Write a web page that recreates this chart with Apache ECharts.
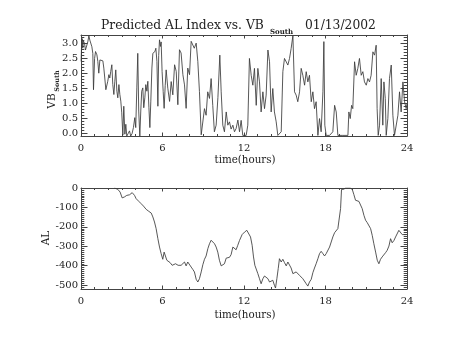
<!DOCTYPE html>
<html>
<head>
<meta charset="utf-8">
<script src="https://cdn.jsdelivr.net/npm/echarts@6/dist/echarts.min.js"></script>
<style>
  html, body { margin: 0; padding: 0; background: #fff; }
  #chart { width: 454px; height: 341px; }
</style>
</head>
<body>
<div id="chart"></div>
<script>
// Predicted southward IMF (VB South) — hours since 00 UT and value
const vbHours = [
  0.01, 0.04, 0.09, 0.13, 0.18, 0.26, 0.33, 0.43, 0.50, 0.58, 0.65, 0.72, 0.80, 0.87, 0.92,
  1.00, 1.07, 1.17, 1.24, 1.31, 1.39, 1.46, 1.53, 1.61, 1.68, 1.75, 1.83, 1.90, 1.97,
  2.05, 2.12, 2.19, 2.27, 2.34, 2.42, 2.49, 2.56, 2.64, 2.71, 2.79, 2.86, 2.93,
  3.00, 3.08, 3.15, 3.23, 3.30, 3.37, 3.47, 3.57, 3.66, 3.76, 3.86, 3.96,
  4.03, 4.11, 4.18, 4.25, 4.33, 4.40, 4.47, 4.55, 4.62, 4.70, 4.77, 4.85, 4.92,
  5.00, 5.07, 5.14, 5.22, 5.29, 5.37, 5.44, 5.51, 5.59, 5.66, 5.72, 5.78, 5.85, 5.90, 5.97,
  6.05, 6.12, 6.20, 6.27, 6.39, 6.52, 6.64, 6.76, 6.89,
  7.01, 7.13, 7.25, 7.37, 7.50, 7.62, 7.74, 7.86, 7.99,
  8.11, 8.23, 8.34, 8.48, 8.60, 8.72, 8.85, 8.97,
  9.09, 9.21, 9.33, 9.46, 9.58, 9.70, 9.82, 9.95,
  10.08, 10.22, 10.32, 10.44, 10.56, 10.69, 10.81, 10.93,
  11.05, 11.18, 11.30, 11.42, 11.55, 11.67, 11.79, 11.91,
  12.16, 12.28, 12.40, 12.53, 12.65, 12.77, 12.90,
  13.02, 13.14, 13.26, 13.39, 13.51, 13.63, 13.76, 13.88,
  14.00, 14.12, 14.24, 14.37, 14.49, 14.61, 14.74, 14.86, 14.98,
  15.11, 15.23, 15.35, 15.47, 15.60, 15.72, 15.84, 15.96,
  16.09, 16.21, 16.33, 16.46, 16.58, 16.70, 16.82, 16.95,
  17.07, 17.19, 17.31, 17.44, 17.56, 17.68, 17.81, 17.88, 17.95,
  18.05, 18.30, 18.54, 18.67, 18.79, 18.91,
  19.28, 19.65, 19.72, 19.82, 19.92,
  20.01, 20.14, 20.26, 20.38, 20.50, 20.63, 20.75, 20.87,
  21.00, 21.12, 21.24, 21.36, 21.49, 21.61, 21.73, 21.80, 21.88, 21.98,
  22.10, 22.22, 22.30, 22.40, 22.47, 22.59, 22.71, 22.84, 22.96,
  23.08, 23.21, 23.33, 23.45, 23.57, 23.70, 23.82, 23.94, 24.00
];
const vbValues = [
  2.40, 2.89, 3.16, 2.84, 3.08, 3.00, 2.78, 2.84, 3.05, 3.25, 3.11, 3.05, 2.89, 2.67, 1.46,
  2.50, 2.73, 2.62, 2.40, 2.01, 2.45, 2.48, 2.40, 2.42, 2.18, 1.85, 1.46, 1.49, 1.74,
  1.96, 1.85, 2.07, 2.29, 1.63, 1.30, 1.74, 2.12, 1.41, 1.19, 1.63, 1.30, 1.08,
  0.69, -0.05, 0.91, -0.02, 0.31, -0.08, 0.00, 0.09, -0.08, 0.00, 0.20, 0.53,
  0.20, 1.52, 2.67, 0.75, -0.08, 0.75, 1.41, 1.52, 0.86, 1.19, 1.63, 1.41, 1.74,
  0.86, 0.20, 1.08, 2.18, 2.67, 2.62, 2.73, 2.84, 2.40, 0.91, 2.60, 3.12, 2.90, 3.05, 2.07,
  1.40, 0.84, 1.60, 2.12, 1.51, 1.07, 1.73, 1.29, 2.29,
  2.07, 0.96, 2.79, 2.68, 1.96, 1.62, 0.84, 2.18, 1.96,
  3.07, 3.12, 2.84, 3.01, 2.40, 1.40, -0.04, -0.08,
  0.83, 0.61, 1.39, 1.17, 1.83, 0.94, 0.06, 0.28,
  1.20, 2.61, 1.39, 0.28, 0.06, 0.72, 0.28, 0.39,
  0.15, 0.28, 0.06, 0.17, 0.45, 0.06, 0.44, -0.06,
  -0.06, 0.28, 2.50, 1.94, 1.61, 2.17, 0.94,
  2.17, 1.72, 0.72, 1.39, 0.83, 1.28, 2.78, 2.39,
  0.72, 1.50, 0.72, 0.39, -0.06, -0.06, 0.06, 2.06, 2.50,
  2.56, 2.28, 2.50, 2.83, 3.26, 1.39, 1.28, 1.06,
  1.39, 2.17, 1.94, 1.61, 2.06, 1.72, 1.94, 1.06,
  1.39, 0.83, 1.06, -0.06, 0.50, 0.06, 1.39, 3.06, 0.28,
  -0.06, -0.06, 0.06, 0.94, 0.72, -0.06,
  -0.06, -0.06, 0.72, 0.50, 0.94,
  0.83, 2.39, 1.94, 2.17, 2.50, 1.94, 2.06, 1.72,
  1.61, 1.83, 1.72, 1.94, 2.72, 2.61, 2.94, 0.83, -0.06, 0.28,
  1.83, 0.28, 1.72, 1.17, -0.06, 0.50, 1.83, 2.28, 0.61,
  -0.06, -0.06, 0.61, 1.39, 0.72, 1.72, 1.06, 0.83, 1.00
];

// Predicted AL index (nT)
const alHours = [
  2.47, 2.71, 2.88, 3.03, 3.20, 3.37, 3.57, 3.77, 3.94,
  4.06, 4.26, 4.43, 4.60, 4.80, 4.99, 5.17, 5.29, 5.41, 5.53, 5.66, 5.78, 5.90,
  6.02, 6.12, 6.22, 6.32, 6.41, 6.56, 6.71, 6.81, 6.96,
  7.05, 7.15, 7.25, 7.37, 7.50, 7.62, 7.74, 7.86, 7.99,
  8.11, 8.23, 8.35, 8.48, 8.60, 8.72, 8.85, 8.97,
  9.09, 9.21, 9.34, 9.46, 9.58, 9.71, 9.83, 9.95,
  10.07, 10.19, 10.32, 10.44, 10.56, 10.69, 10.81, 10.93,
  11.05, 11.18, 11.30, 11.42, 11.54, 11.67, 11.86,
  12.04, 12.21, 12.35, 12.48, 12.60, 12.70, 12.80, 12.89,
  13.02, 13.14, 13.26, 13.39, 13.51, 13.63, 13.76, 13.88,
  14.00, 14.12, 14.24, 14.32, 14.42, 14.52, 14.61, 14.74, 14.86, 14.98,
  15.11, 15.23, 15.35, 15.47, 15.60, 15.72, 15.84, 15.96,
  16.09, 16.21, 16.33, 16.46, 16.58, 16.70, 16.82, 16.95,
  17.07, 17.19, 17.31, 17.44, 17.56, 17.68, 17.81, 17.93,
  18.05, 18.17, 18.30, 18.42, 18.54, 18.67, 18.79, 18.91,
  19.03, 19.11, 19.18, 19.33, 19.48, 19.65, 19.82, 19.97,
  20.09, 20.21, 20.34, 20.46, 20.58, 20.70, 20.83, 20.95,
  21.07, 21.19, 21.32, 21.44, 21.56, 21.69, 21.81, 21.93,
  22.05, 22.17, 22.30, 22.42, 22.54, 22.67, 22.79, 22.91,
  23.04, 23.16, 23.28, 23.40, 23.53, 23.65, 23.78, 23.95
];
const alValues = [
  0, -7, -21, -51, -46, -38, -35, -24, -38,
  -55, -69, -81, -93, -110, -120, -129, -149, -175, -209, -261, -304, -338,
  -367, -330, -321, -372, -381, -384, -398, -407, -390,
  -381, -398, -390, -398, -401, -381, -401, -381, -384,
  -407, -419, -432, -470, -484, -467, -432, -395,
  -367, -350, -312, -287, -269, -274, -287, -304,
  -330, -372, -401, -401, -390, -361, -355, -357,
  -343, -304, -312, -318, -295, -270, -240,
  -227, -218, -221, -252, -295, -355, -398, -407,
  -441, -467, -493, -467, -453, -458, -467, -484,
  -484, -475, -501, -515, -467, -415, -364, -381, -367, -384,
  -401, -381, -378, -412, -441, -446, -432, -436,
  -450, -458, -467, -475, -493, -505, -484, -470,
  -436, -412, -390, -364, -338, -326, -338, -350,
  -338, -330, -304, -278, -252, -230, -223, -209,
  -201, -106, -7, -7, 0, 0, 0, -7,
  -34, -63, -63, -69, -76, -106, -141, -166,
  -178, -184, -209, -244, -287, -330, -372, -390,
  -367, -355, -347, -333, -321, -299, -261, -282,
  -270, -252, -244, -218, -227, -240, -244, -240
];

// Axis tick labels
const hourTicks = [0, 6, 12, 18, 24];
const vbTicks = [0.0, 0.5, 1.0, 1.5, 2.0, 2.5, 3.0];
const alTicks = [0, -100, -200, -300, -400, -500];

const H_MIN = 0, H_MAX = 24;
const VB_MIN = -0.08, VB_MAX = 3.28;
const AL_MIN = -520, AL_MAX = 0;

function steps(from, to, step) {
  const out = [];
  const n = Math.round((to - from) / step);
  for (let i = 0; i <= n; i++) out.push(+(from + i * step).toFixed(4));
  return out;
}
const vbMinor = steps(0, 3.2, 0.1);
const alMinor = steps(-520, 0, 10);

const FONT = 'DejaVu Serif';
const INK = '#222';
const FRAME = '#444';

// Frame sides with inward ticks; a label-less twin axis carries the minor ticks
function xAxisFor(gi, position, withLabels) {
  return {
    type: 'value', gridIndex: gi, position,
    min: H_MIN, max: H_MAX, interval: 6,
    axisLine: { show: true, onZero: false, lineStyle: { color: FRAME, width: 1 } },
    axisTick: { show: true, inside: true, length: 3.5, lineStyle: { color: FRAME, width: 1 } },
    minorTick: { show: true, splitNumber: 6, length: 2, lineStyle: { color: FRAME, width: 1 } },
    axisLabel: withLabels
      ? { show: true, margin: 7, fontFamily: FONT, fontSize: 10, color: INK,
          customValues: hourTicks }
      : { show: false },
    splitLine: { show: false }
  };
}
function yAxisFor(gi, position, min, max, ticks, len, labelFmt, drawLine) {
  return {
    type: 'value', gridIndex: gi, position, min, max,
    axisLine: { show: drawLine, onZero: false, lineStyle: { color: FRAME, width: 1 } },
    axisTick: { show: true, inside: true, length: len, customValues: ticks, lineStyle: { color: FRAME, width: 1 } },
    axisLabel: labelFmt
      ? { show: true, customValues: ticks, margin: 3, fontFamily: FONT, fontSize: 10, color: INK, formatter: labelFmt }
      : { show: false, customValues: ticks },
    splitLine: { show: false }
  };
}

const option = {
  animation: false,
  backgroundColor: '#fff',
  grid: [
    { left: 81, top: 35, width: 326, height: 101 },
    { left: 81, top: 188, width: 326, height: 101 }
  ],
  xAxis: [
    xAxisFor(0, 'bottom', true),
    xAxisFor(0, 'top', false),
    xAxisFor(1, 'bottom', true),
    xAxisFor(1, 'top', false)
  ],
  yAxis: [
    yAxisFor(0, 'left', VB_MIN, VB_MAX, vbTicks, 6.5, v => v.toFixed(1), true),
    yAxisFor(0, 'left', VB_MIN, VB_MAX, vbMinor, 3.3, null, false),
    yAxisFor(0, 'right', VB_MIN, VB_MAX, vbTicks, 6.5, null, true),
    yAxisFor(0, 'right', VB_MIN, VB_MAX, vbMinor, 3.3, null, false),
    yAxisFor(1, 'left', AL_MIN, AL_MAX, alTicks, 6.5, v => String(Math.round(v)), true),
    yAxisFor(1, 'left', AL_MIN, AL_MAX, alMinor, 3.3, null, false),
    yAxisFor(1, 'right', AL_MIN, AL_MAX, alTicks, 6.5, null, true),
    yAxisFor(1, 'right', AL_MIN, AL_MAX, alMinor, 3.3, null, false)
  ],
  series: [
    {
      type: 'line', xAxisIndex: 0, yAxisIndex: 0,
      data: vbHours.map((h, i) => [h, vbValues[i]]),
      showSymbol: false, symbol: 'none', clip: true,
      lineStyle: { color: '#3a3a3a', width: 0.85 }
    },
    {
      type: 'line', xAxisIndex: 2, yAxisIndex: 4,
      data: alHours.map((h, i) => [h, alValues[i]]),
      showSymbol: false, symbol: 'none', clip: true,
      lineStyle: { color: '#3a3a3a', width: 0.85 }
    }
  ],
  graphic: [
    { type: 'text', left: 101, top: 20,
      style: { text: 'Predicted AL Index vs. VB', font: '12.3px "DejaVu Serif"', fill: INK } },
    { type: 'text', left: 270, top: 29,
      style: { text: 'South', font: 'bold 7px "DejaVu Serif"', fill: INK } },
    { type: 'text', left: 305, top: 20,
      style: { text: '01/13/2002', font: '12.3px "DejaVu Serif"', fill: INK } },
    { type: 'text', x: 52, y: 101, rotation: Math.PI / 2,
      style: { text: 'VB', font: '10.5px "DejaVu Serif"', fill: INK, align: 'center', verticalAlign: 'middle' } },
    { type: 'text', x: 57.5, y: 81, rotation: Math.PI / 2,
      style: { text: 'South', font: 'bold 6.5px "DejaVu Serif"', fill: INK, align: 'center', verticalAlign: 'middle' } },
    { type: 'text', x: 46, y: 238, rotation: Math.PI / 2,
      style: { text: 'AL', font: '10.5px "DejaVu Serif"', fill: INK, align: 'center', verticalAlign: 'middle' } },
    { type: 'text', x: 245, y: 160,
      style: { text: 'time(hours)', font: '10.3px "DejaVu Serif"', fill: INK, align: 'center', verticalAlign: 'middle' } },
    { type: 'text', x: 245, y: 315,
      style: { text: 'time(hours)', font: '10.3px "DejaVu Serif"', fill: INK, align: 'center', verticalAlign: 'middle' } }
  ]
};

const chart = echarts.init(document.getElementById('chart'), null, { renderer: 'canvas' });
chart.setOption(option);
</script>
</body>
</html>
